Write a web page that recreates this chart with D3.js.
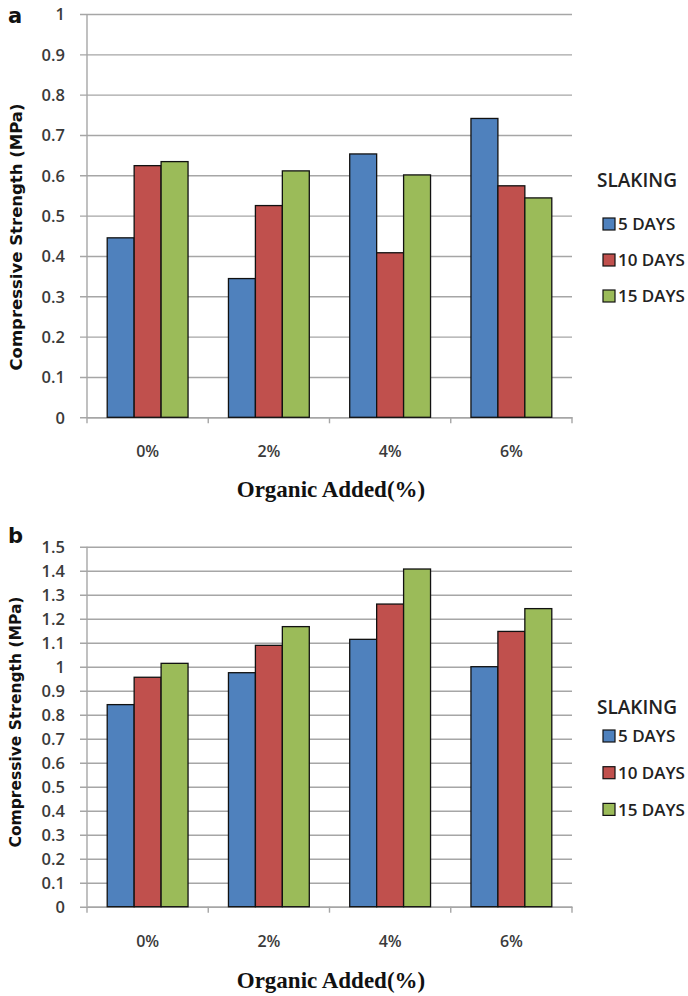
<!DOCTYPE html>
<html>
<head>
<meta charset="utf-8">
<script src="https://cdn.jsdelivr.net/npm/d3@7"></script>
<style>
html,body{margin:0;padding:0;background:#fff;}
svg{display:block;}
</style>
</head>
<body>
<svg id="chart" width="688" height="996"></svg>
<script>
// ---- data ----
const categories = ["0%", "2%", "4%", "6%"];
const seriesNames = ["5 DAYS", "10 DAYS", "15 DAYS"];
const seriesColors = ["#4F81BD", "#C0504D", "#9BBB59"];
// panel a
const aDays5  = [0.445, 0.344, 0.653, 0.741];
const aDays10 = [0.624, 0.525, 0.408, 0.574];
const aDays15 = [0.634, 0.611, 0.601, 0.544];
const aTicks  = [0, 0.1, 0.2, 0.3, 0.4, 0.5, 0.6, 0.7, 0.8, 0.9, 1];
// panel b
const bDays5  = [0.842, 0.975, 1.114, 1.000];
const bDays10 = [0.956, 1.089, 1.261, 1.147];
const bDays15 = [1.014, 1.167, 1.407, 1.242];
const bTicks  = [0, 0.1, 0.2, 0.3, 0.4, 0.5, 0.6, 0.7, 0.8, 0.9, 1, 1.1, 1.2, 1.3, 1.4, 1.5];

const yTitle = "Compressive Strength (MPa)";
const xTitle = "Organic Added(%)";
const legendTitle = "SLAKING";

const svg = d3.select("#chart");
const tickFont = "Open Sans, DejaVu Sans, sans-serif";

function panel(opt) {
  const g = svg.append("g");
  const x0 = 87, x1 = 572;
  const y = d3.scaleLinear().domain([0, opt.max]).range([opt.yBottom, opt.yTop]);
  const xb = d3.scaleBand().domain(categories).range([x0, x1]).paddingInner(0).paddingOuter(0);
  // bar width: gap width 150%
  const xs = d3.scaleBand().domain(seriesNames).range([0, xb.bandwidth()]).paddingInner(0).paddingOuter(0.75);

  // gridlines + y axis
  const yAxis = d3.axisLeft(y).tickValues(opt.ticks).tickSize(0).tickPadding(0)
    .tickFormat(d => d3.format("")(+d.toFixed(1)));
  const ya = g.append("g").attr("transform", `translate(${x0},0)`).call(yAxis);
  ya.select(".domain").remove();
  ya.selectAll(".tick line").attr("x1", -7).attr("x2", x1 - x0).attr("stroke", "#a6a6a6").attr("stroke-width", 1.4);
  ya.selectAll(".tick text").attr("x", -22).attr("dy", "0.36em")
    .attr("font-family", tickFont).attr("font-weight", 600).attr("font-size", 16.5).attr("fill", "#3a3a3a");
  // y axis line
  g.append("line").attr("x1", x0).attr("x2", x0).attr("y1", opt.yTop).attr("y2", opt.yBottom)
    .attr("stroke", "#a6a6a6").attr("stroke-width", 1.4);

  // x axis
  const xAxis = d3.axisBottom(xb).tickSize(0).tickPadding(0);
  const xa = g.append("g").attr("transform", `translate(0,${opt.yBottom})`).call(xAxis);
  xa.select(".domain").attr("stroke", "#a6a6a6").attr("stroke-width", 1.4);
  xa.selectAll(".tick text").attr("y", opt.xLabelDy).attr("dy", "0.36em")
    .attr("font-family", tickFont).attr("font-weight", 600).attr("font-size", 16).attr("fill", "#3a3a3a");
  // boundary ticks
  const bounds = categories.map(c => xb(c)).concat([x1]);
  g.selectAll(".btick").data(bounds).enter().append("line")
    .attr("x1", d => d).attr("x2", d => d)
    .attr("y1", opt.yBottom).attr("y2", opt.yBottom + 6)
    .attr("stroke", "#a6a6a6").attr("stroke-width", 1.4);

  // bars
  const rows = categories.map((c, i) => ({ cat: c, vals: opt.series.map((s, j) => ({ name: seriesNames[j], v: s[i], color: seriesColors[j] })) }));
  const grp = g.selectAll(".grp").data(rows).enter().append("g")
    .attr("transform", d => `translate(${xb(d.cat)},0)`);
  grp.selectAll("rect").data(d => d.vals).enter().append("rect")
    .attr("x", d => xs(d.name))
    .attr("width", xs.bandwidth())
    .attr("y", d => y(d.v))
    .attr("height", d => y(0) - y(d.v))
    .attr("fill", d => d.color)
    .attr("stroke", "#111")
    .attr("stroke-width", 1.3);

  // panel letter
  g.append("text").attr("x", 8).attr("y", opt.letterY).text(opt.letter)
    .attr("font-family", "DejaVu Sans, sans-serif").attr("font-weight", "bold").attr("font-size", 21).attr("fill", "#111");

  // y title
  g.append("text")
    .attr("transform", `translate(${opt.yTitleX},${opt.yTitleCY}) rotate(-90)`)
    .attr("text-anchor", "middle").attr("dy", "0.35em")
    .attr("font-family", "DejaVu Sans, sans-serif").attr("font-weight", "bold").attr("font-size", opt.yTitleSize)
    .attr("fill", "#111").text(yTitle);

  // x title
  g.append("text").attr("x", 331).attr("y", opt.xTitleY).attr("text-anchor", "middle")
    .attr("font-family", "Liberation Serif, Times New Roman, serif").attr("font-weight", "bold")
    .attr("font-size", 23).attr("fill", "#111").text(xTitle);

  // legend
  const lg = g.append("g");
  lg.append("text").attr("x", 597).attr("y", opt.legTitleY).attr("dy", "0.36em")
    .attr("font-family", tickFont).attr("font-weight", 600).attr("font-size", 19).attr("fill", "#222").text(legendTitle);
  const items = lg.selectAll(".li").data(seriesNames).enter().append("g")
    .attr("transform", (d, i) => `translate(603,${opt.legY0 + i * opt.legStep})`);
  items.append("rect").attr("x", 0).attr("y", -6).attr("width", 12).attr("height", 12)
    .attr("fill", (d, i) => seriesColors[i]).attr("stroke", "#111").attr("stroke-width", 1.2);
  items.append("text").attr("x", 15).attr("dy", "0.36em")
    .attr("font-family", tickFont).attr("font-weight", 600).attr("font-size", 17).attr("fill", "#222").text(d => d);
}

panel({
  max: 1, ticks: aTicks, yTop: 14, yBottom: 417.3,
  series: [aDays5, aDays10, aDays15],
  xLabelDy: 34, letter: "a", letterY: 23,
  yTitleX: 16, yTitleCY: 237, yTitleSize: 16.5,
  xTitleY: 497,
  legTitleY: 180, legY0: 224, legStep: 36
});
panel({
  max: 1.5, ticks: bTicks, yTop: 546.7, yBottom: 906.7,
  series: [bDays5, bDays10, bDays15],
  xLabelDy: 35, letter: "b", letterY: 543,
  yTitleX: 16, yTitleCY: 722, yTitleSize: 15.5,
  xTitleY: 988,
  legTitleY: 707, legY0: 736, legStep: 36.7
});
</script>
</body>
</html>
